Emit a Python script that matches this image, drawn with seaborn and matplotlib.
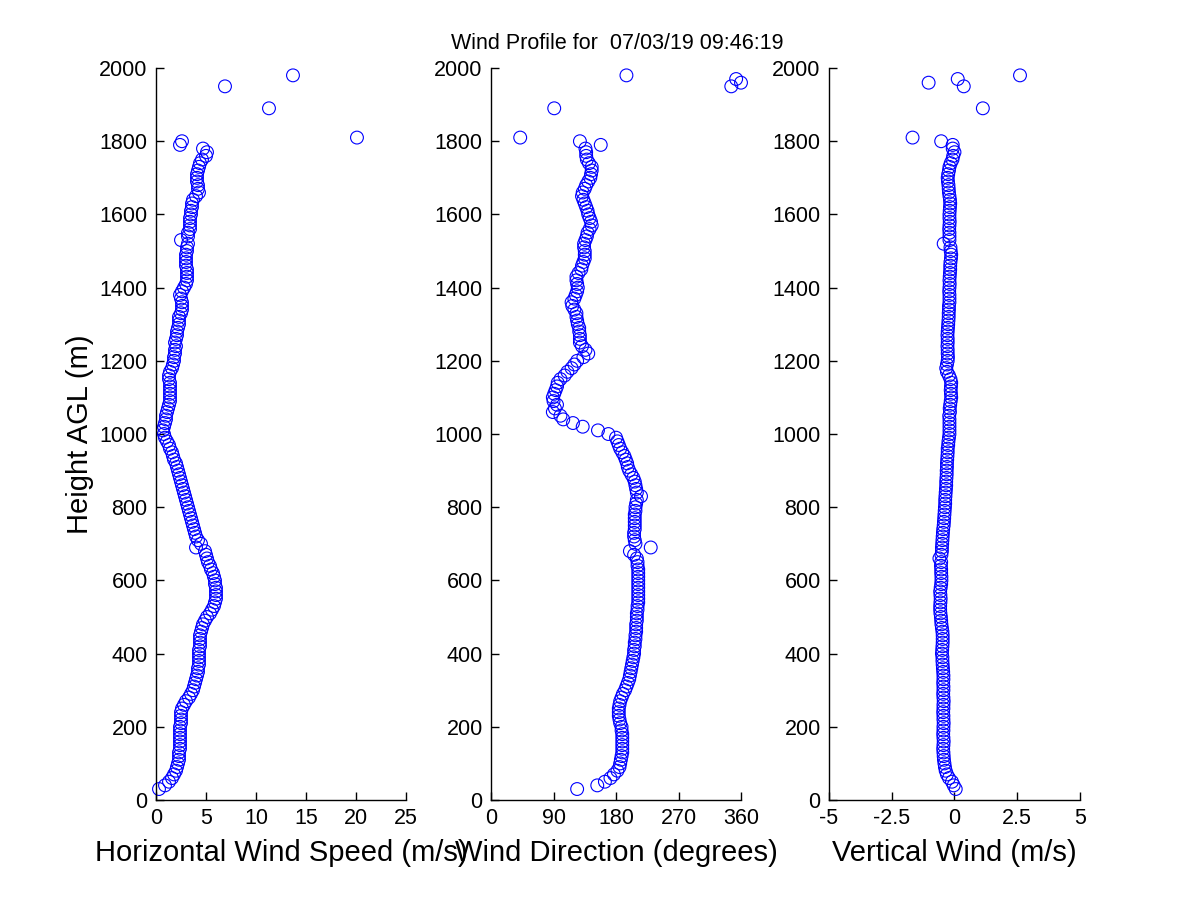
import matplotlib
matplotlib.use("Agg")
import matplotlib.pyplot as plt
import numpy as np
import pandas as pd
import seaborn as sns

# Lidar range gates (m AGL): regular 10 m gates up to 1800 m, then a few sparse returns
gates_low = np.arange(30, 1810, 10)
gates_high = [1810, 1890, 1950, 1960, 1970, 1980]

# Horizontal wind speed (m/s), 30..1800 m
speed_low = [
    0.3, 0.9, 1.3, 1.6, 1.8, 2.0, 2.1, 2.2, 2.3, 2.3,
    2.3, 2.4, 2.4, 2.4, 2.4, 2.4, 2.4, 2.4, 2.5, 2.5,
    2.5, 2.5, 2.6, 2.8, 3.0, 3.3, 3.5, 3.7, 3.8, 3.9,
    4.0, 4.1, 4.2, 4.2, 4.3, 4.3, 4.3, 4.3, 4.3, 4.4,
    4.4, 4.4, 4.4, 4.5, 4.6, 4.7, 4.9, 5.1, 5.4, 5.6,
    5.8, 5.9, 6.0, 6.0, 6.0, 6.0, 5.9, 5.9, 5.8, 5.7,
    5.5, 5.4, 5.2, 5.1, 5.0, 4.9, 4.0, 4.5, 4.2, 4.0,
    3.9, 3.8, 3.7, 3.6, 3.5, 3.4, 3.3, 3.2, 3.1, 3.0,
    2.9, 2.8, 2.7, 2.6, 2.5, 2.4, 2.3, 2.2, 2.1, 2.0,
    1.8, 1.7, 1.6, 1.4, 1.3, 1.1, 0.9, 0.8, 0.7, 0.8,
    0.9, 1.0, 1.0, 1.1, 1.2, 1.3, 1.4, 1.4, 1.4, 1.4,
    1.4, 1.4, 1.3, 1.3, 1.4, 1.6, 1.7, 1.8, 1.8, 1.9,
    1.9, 2.0, 1.9, 2.0, 2.1, 2.1, 2.2, 2.3, 2.3, 2.3,
    2.5, 2.6, 2.6, 2.6, 2.5, 2.4, 2.6, 2.8, 3.0, 3.1,
    3.1, 3.1, 3.1, 3.0, 3.0, 3.0, 3.0, 3.1, 3.1, 3.2,
    2.5, 3.2, 3.2, 3.4, 3.4, 3.4, 3.4, 3.5, 3.5, 3.6,
    3.6, 3.7, 4.0, 4.3, 4.2, 4.2, 4.1, 4.1, 4.1, 4.2,
    4.3, 4.4, 4.6, 5.0, 5.1, 4.7, 2.4, 2.6,
]
speed_high = [20.1, 11.3, 6.9, 27.5, 31.0, 13.7]

# Wind direction (degrees), 30..1800 m
direction_low = [
    124, 153, 164, 172, 177, 182, 185, 186, 187, 188,
    189, 189, 189, 189, 189, 189, 188, 188, 186, 185,
    184, 184, 184, 185, 186, 188, 190, 193, 195, 197,
    199, 200, 201, 202, 203, 204, 205, 206, 206, 207,
    207, 208, 208, 209, 209, 209, 210, 210, 210, 211,
    211, 212, 212, 212, 212, 212, 212, 212, 212, 212,
    212, 211, 211, 210, 206, 200, 230, 208, 207, 206,
    206, 207, 207, 207, 207, 207, 208, 208, 209, 210,
    216, 210, 209, 208, 207, 205, 202, 199, 197, 196,
    194, 192, 189, 186, 184, 182, 180, 169, 154, 132,
    118, 104, 100, 89, 92, 95, 90, 89, 91, 93,
    95, 96, 100, 106, 110, 116, 120, 124, 133, 140,
    136, 131, 128, 128, 128, 127, 127, 125, 124, 123,
    123, 120, 117, 116, 120, 122, 124, 125, 124, 123,
    123, 126, 130, 131, 133, 135, 135, 135, 134, 134,
    136, 138, 139, 142, 145, 144, 142, 140, 139, 137,
    135, 133, 131, 132, 135, 137, 140, 143, 144, 145,
    145, 141, 138, 137, 137, 136, 158, 128,
]
direction_high = [42, 91, 346, 360, 353, 195]

# Vertical wind (m/s), 30..1800 m
vertical_low = [
    0.05, -0.03, -0.10, -0.22, -0.30, -0.35, -0.38, -0.40, -0.42, -0.43,
    -0.44, -0.45, -0.44, -0.43, -0.44, -0.45, -0.44, -0.44, -0.43, -0.44,
    -0.44, -0.45, -0.44, -0.44, -0.43, -0.44, -0.45, -0.44, -0.44, -0.45,
    -0.44, -0.44, -0.45, -0.46, -0.47, -0.48, -0.48, -0.50, -0.49, -0.48,
    -0.47, -0.47, -0.47, -0.48, -0.50, -0.52, -0.53, -0.54, -0.56, -0.57,
    -0.57, -0.56, -0.55, -0.56, -0.57, -0.55, -0.53, -0.52, -0.52, -0.53,
    -0.53, -0.54, -0.53, -0.60, -0.52, -0.50, -0.50, -0.49, -0.48, -0.47,
    -0.46, -0.45, -0.43, -0.42, -0.41, -0.40, -0.39, -0.38, -0.37, -0.37,
    -0.36, -0.35, -0.34, -0.33, -0.33, -0.32, -0.31, -0.31, -0.30, -0.30,
    -0.29, -0.28, -0.27, -0.27, -0.25, -0.24, -0.22, -0.20, -0.20, -0.20,
    -0.20, -0.20, -0.21, -0.18, -0.19, -0.17, -0.15, -0.13, -0.14, -0.15,
    -0.14, -0.13, -0.16, -0.22, -0.30, -0.33, -0.30, -0.27, -0.26, -0.27,
    -0.27, -0.28, -0.27, -0.27, -0.28, -0.27, -0.26, -0.25, -0.24, -0.23,
    -0.23, -0.22, -0.22, -0.20, -0.20, -0.20, -0.21, -0.20, -0.19, -0.20,
    -0.19, -0.18, -0.17, -0.17, -0.16, -0.14, -0.13, -0.15, -0.16, -0.43,
    -0.20, -0.20, -0.20, -0.21, -0.20, -0.19, -0.20, -0.20, -0.19, -0.18,
    -0.17, -0.18, -0.20, -0.22, -0.23, -0.24, -0.26, -0.27, -0.25, -0.22,
    -0.20, -0.15, -0.08, -0.05, 0.00, -0.07, -0.07, -0.53,
]
vertical_high = [-1.67, 1.13, 0.37, -1.03, 0.13, 2.61]

title_text = "Wind Profile for  07/03/19 09:46:19"

df = pd.DataFrame({
    "height": np.concatenate([gates_low, gates_high]),
    "speed": speed_low + speed_high,
    "direction": direction_low + direction_high,
    "vertical": vertical_low + vertical_high,
})

sns.set_style("ticks")
plt.rcParams["font.family"] = ["Liberation Sans", "DejaVu Sans"]
plt.rcParams["text.color"] = "black"
plt.rcParams["axes.labelcolor"] = "black"

fig = plt.figure(figsize=(12, 9), dpi=100)
fig.patch.set_facecolor("white")

panels = [
    ("speed", [0.130, 0.1111, 0.2083, 0.8133], (0, 25), [0, 5, 10, 15, 20, 25],
     ["0", "5", "10", "15", "20", "25"], "Horizontal Wind Speed (m/s)"),
    ("direction", [0.4092, 0.1111, 0.2083, 0.8133], (0, 360), [0, 90, 180, 270, 360],
     ["0", "90", "180", "270", "360"], "Wind Direction (degrees)"),
    ("vertical", [0.6908, 0.1111, 0.2092, 0.8133], (-5, 5), [-5, -2.5, 0, 2.5, 5],
     ["-5", "-2.5", "0", "2.5", "5"], "Vertical Wind (m/s)"),
]

axes = []
for col, pos, xlim, xticks, xticklabels, xlabel in panels:
    ax = fig.add_axes(pos)
    # like MATLAB: drop points outside the limits, but draw whole markers at the edges
    shown = df[(df[col] >= xlim[0]) & (df[col] <= xlim[1])]
    sns.scatterplot(data=shown, x=col, y="height", ax=ax, marker="o", s=85,
                    facecolors="none", edgecolor="blue", linewidth=0.8,
                    legend=False, clip_on=False)
    ax.set_xlim(*xlim)
    ax.set_ylim(0, 2000)
    ax.set_xticks(xticks)
    ax.set_xticklabels(xticklabels)
    ax.set_yticks(range(0, 2001, 200))
    ax.tick_params(direction="in", length=6, width=1, labelsize=15.5,
                   colors="black", pad=6)
    ax.set_xlabel(xlabel, fontsize=21, labelpad=7)
    ax.set_ylabel("")
    for side in ["top", "right"]:
        ax.spines[side].set_visible(False)
    for side in ["left", "bottom"]:
        ax.spines[side].set_color("black")
        ax.spines[side].set_linewidth(1)
    ax.set_facecolor("white")
    axes.append(ax)

axes[0].set_ylabel("Height AGL (m)", fontsize=21, labelpad=4)
fig.text(0.514, 0.952, title_text, ha="center", va="center", fontsize=15.5,
         color="black")

fig.savefig("out.png", dpi=100, facecolor="white")
